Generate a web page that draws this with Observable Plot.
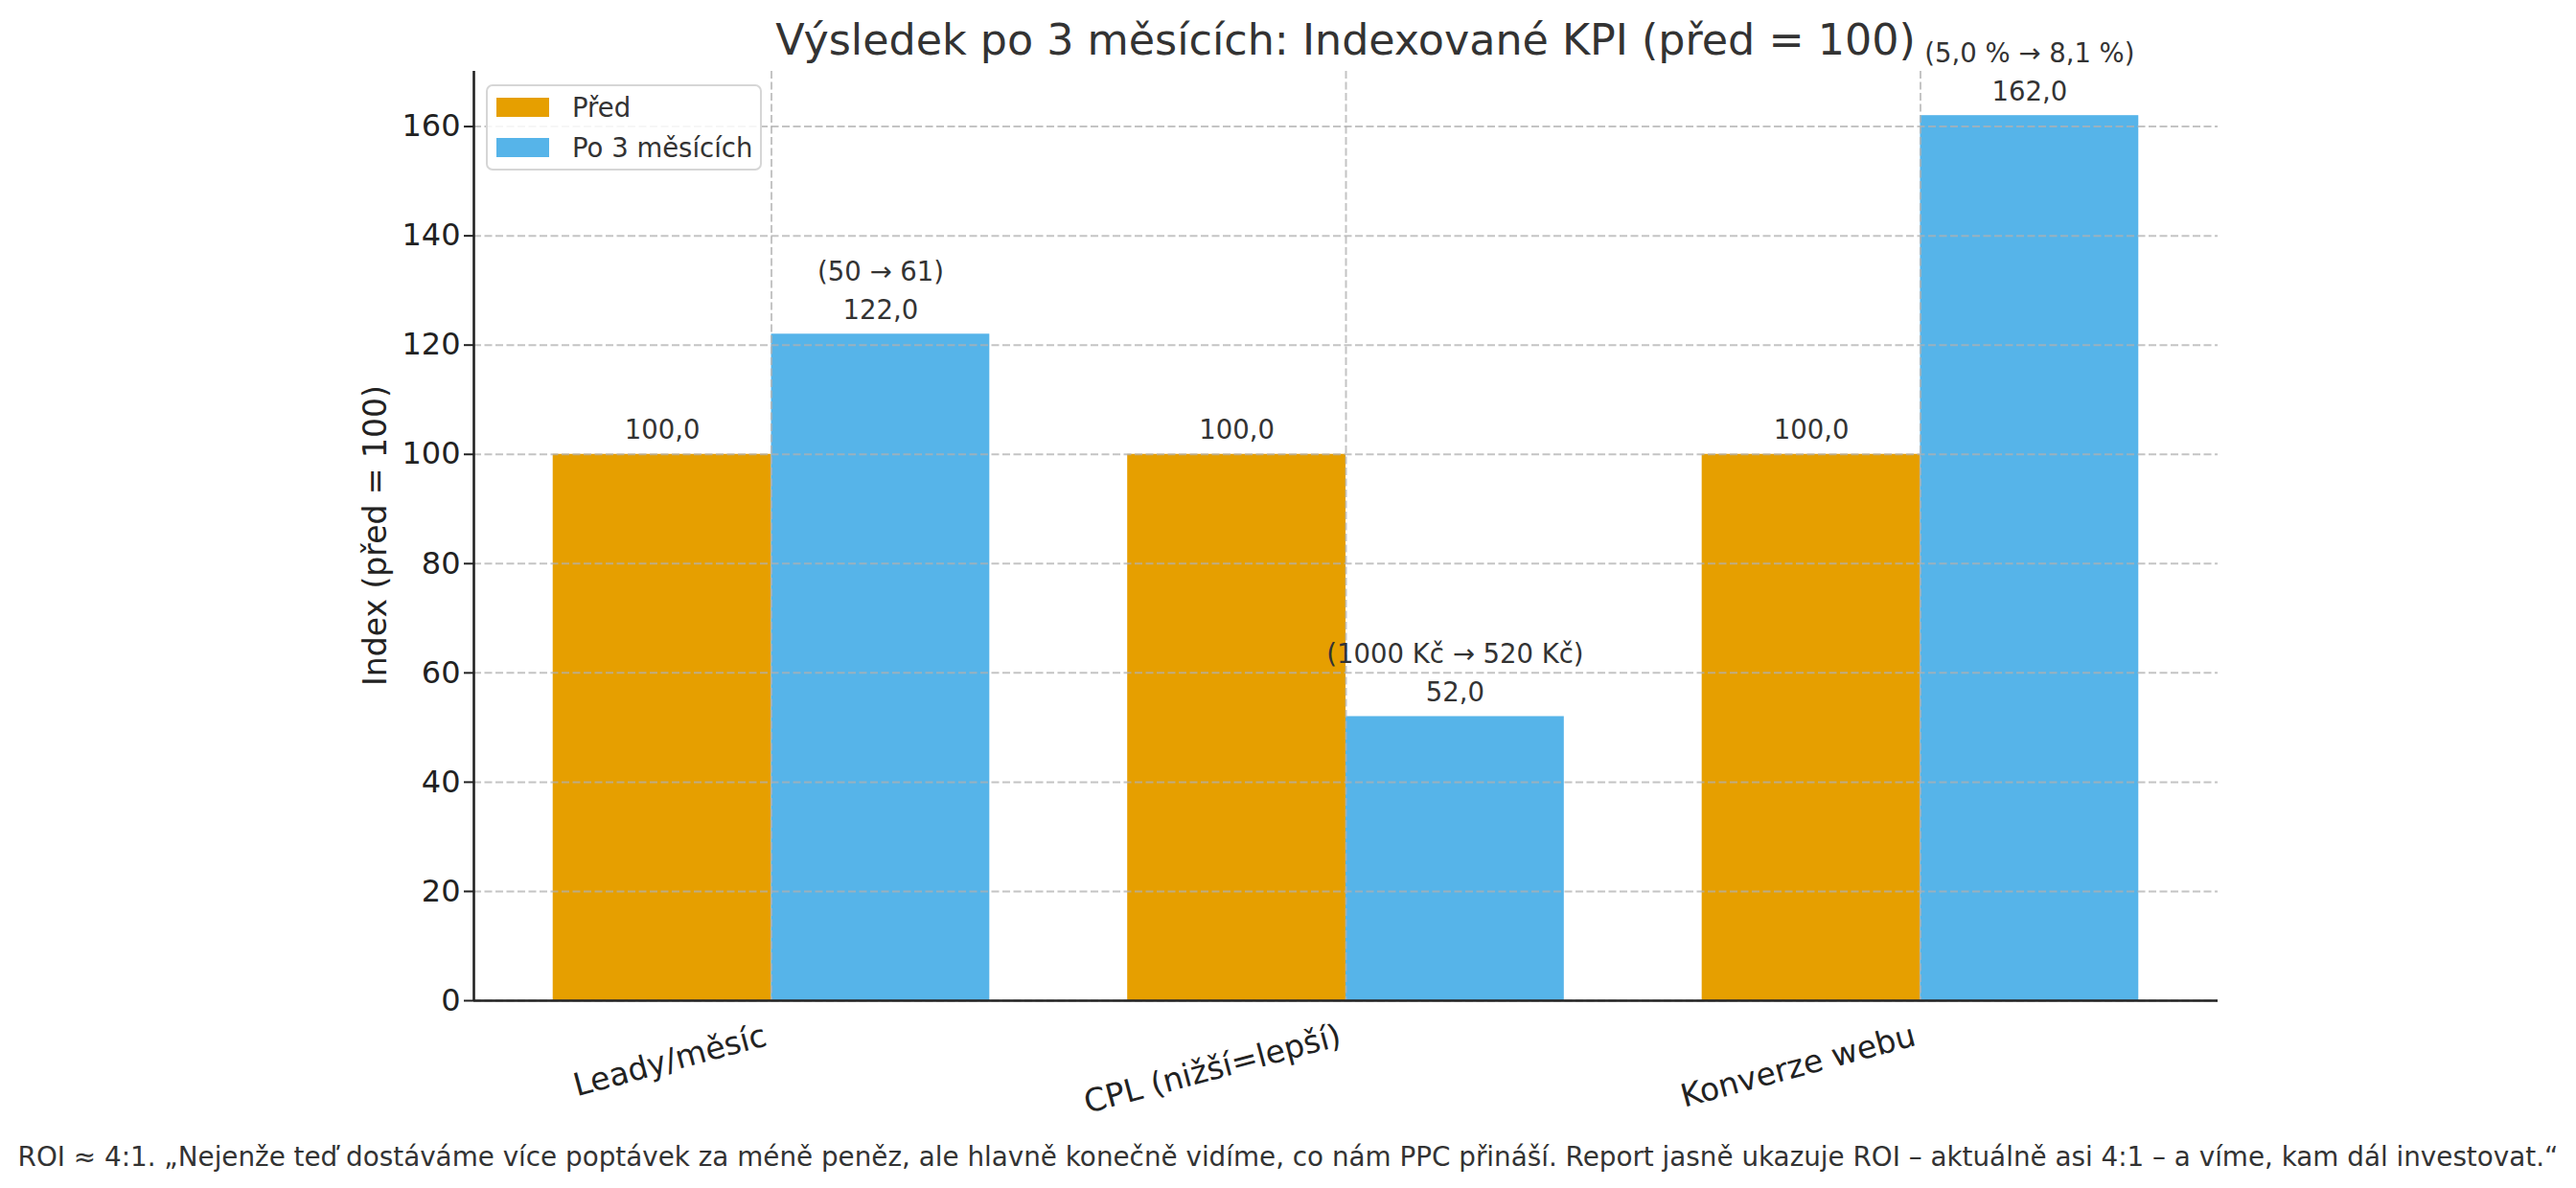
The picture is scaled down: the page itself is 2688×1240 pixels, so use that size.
<!DOCTYPE html>
<html>
<head>
<meta charset="utf-8">
<script src="https://cdn.jsdelivr.net/npm/d3@7"></script>
<script src="https://cdn.jsdelivr.net/npm/@observablehq/plot@0.6"></script>
<style>
  html, body { margin: 0; padding: 0; background: #fff; }
  #wrap { position: relative; width: 2688px; height: 1240px; font-family: "DejaVu Sans", sans-serif; overflow: hidden; }
  #title { position: absolute; left: 494px; width: 1820px; top: 20px; text-align: center; font-size: 44.4px; line-height: 44px; color: #333; white-space: nowrap; }
  #caption { position: absolute; left: 0; width: 2688px; top: 1194px; text-align: center; font-size: 27.8px; line-height: 28px; color: #333; white-space: nowrap; }
  #ylabel { position: absolute; left: 391px; top: 559px; transform: translate(-50%, -50%) rotate(-90deg); font-size: 33px; line-height: 33px; color: #222; white-space: nowrap; }
  #legend { position: absolute; left: 507px; top: 88px; width: 284px; height: 86px; border: 2px solid #d6d6d6; border-radius: 7px; background: rgba(255,255,255,0.85); }
  .item { position: absolute; left: 9px; height: 28px; display: flex; align-items: center; font-size: 27.5px; color: #333; white-space: nowrap; }
  .sw { width: 55px; height: 20px; margin-right: 24px; }
  svg { position: absolute; left: 0; top: 0; }
</style>
</head>
<body>
<div id="wrap"></div>
<script>
const categories = ["Leady/měsíc", "CPL (nižší=lepší)", "Konverze webu"];
const series = ["Před", "Po 3 měsících"];
const beforeValues = [100, 100, 100];
const afterValues = [122, 52, 162];
const afterNotes = ["(50 → 61)", "(1000 Kč → 520 Kč)", "(5,0 % → 8,1 %)"];
const yTicks = [0, 20, 40, 60, 80, 100, 120, 140, 160];
const colors = ["#E69F00", "#56B4E9"];
const titleText = "Výsledek po 3 měsících: Indexované KPI (před = 100)";
const yLabelText = "Index (před = 100)";
const captionText = "ROI ≈ 4:1. „Nejenže teď dostáváme více poptávek za méně peněz, ale hlavně konečně vidíme, co nám PPC přináší. Report jasně ukazuje ROI – aktuálně asi 4:1 – a víme, kam dál investovat.“";

const barWidth = 0.38;
const rows = categories.flatMap((c, i) => [
  {i, c, s: series[0], v: beforeValues[i], x1: i - barWidth, x2: i},
  {i, c, s: series[1], v: afterValues[i], x1: i, x2: i + barWidth}
]);
const noteRows = categories.map((c, i) => ({i, xc: i + barWidth / 2, v: afterValues[i], note: afterNotes[i]}));
const span = (categories.length - 1) + 2 * barWidth;
const xDomain = [-barWidth - 0.05 * span, categories.length - 1 + barWidth + 0.05 * span];
const yMax = d3.max(rows, d => d.v) * 1.05;
const fmt = v => d3.format(".1f")(v).replace(".", ",");

const gridStyle = {stroke: "#b0b0b0", strokeOpacity: 0.75, strokeWidth: 2, strokeDasharray: "8,3.5"};

const chart = Plot.plot({
  width: 2688,
  height: 1240,
  marginLeft: 494,
  marginRight: 374,
  marginTop: 74,
  marginBottom: 196,
  style: {fontFamily: "DejaVu Sans, sans-serif", background: "transparent", overflow: "visible"},
  x: {domain: xDomain},
  y: {domain: [0, yMax]},
  color: {domain: series, range: colors},
  marks: [
    Plot.rect(rows, {x1: "x1", x2: "x2", y1: 0, y2: "v", fill: "s"}),
    Plot.gridY(yTicks, gridStyle),
    Plot.gridX(categories.map((c, i) => i), gridStyle),
    Plot.ruleY([0], {stroke: "#222", strokeWidth: 2.6}),
    Plot.ruleX([xDomain[0]], {stroke: "#222", strokeWidth: 2.6}),
    Plot.axisY({ticks: yTicks, tickSize: 10, tickPadding: 4, fontSize: 32, label: null, color: "#222", strokeWidth: 2}),
    Plot.axisX({ticks: categories.map((c, i) => i), tickFormat: i => categories[i], tickRotate: -15, tickSize: 0, tickPadding: 36, dx: -6, fontSize: 33, label: null, color: "#222"}),
    Plot.text(rows, {x: d => (d.x1 + d.x2) / 2, y: "v", text: d => fmt(d.v), dy: -25, fontSize: 27.5, fill: "#333", lineAnchor: "middle"}),
    Plot.text(noteRows, {x: "xc", y: "v", text: "note", dy: -65, fontSize: 27.5, fill: "#333", lineAnchor: "middle"})
  ]
});

const wrap = document.getElementById("wrap");
wrap.appendChild(chart);

const title = document.createElement("div");
title.id = "title"; title.textContent = titleText; wrap.appendChild(title);

const ylab = document.createElement("div");
ylab.id = "ylabel"; ylab.textContent = yLabelText; wrap.appendChild(ylab);

const cap = document.createElement("div");
cap.id = "caption"; cap.textContent = captionText; wrap.appendChild(cap);

const legend = document.createElement("div");
legend.id = "legend";
series.forEach((s, k) => {
  const item = document.createElement("div");
  item.className = "item";
  item.style.top = (8 + k * 42) + "px";
  const sw = document.createElement("span");
  sw.className = "sw"; sw.style.background = colors[k];
  const t = document.createElement("span");
  t.textContent = s;
  item.appendChild(sw); item.appendChild(t);
  legend.appendChild(item);
});
wrap.appendChild(legend);
</script>
</body>
</html>
